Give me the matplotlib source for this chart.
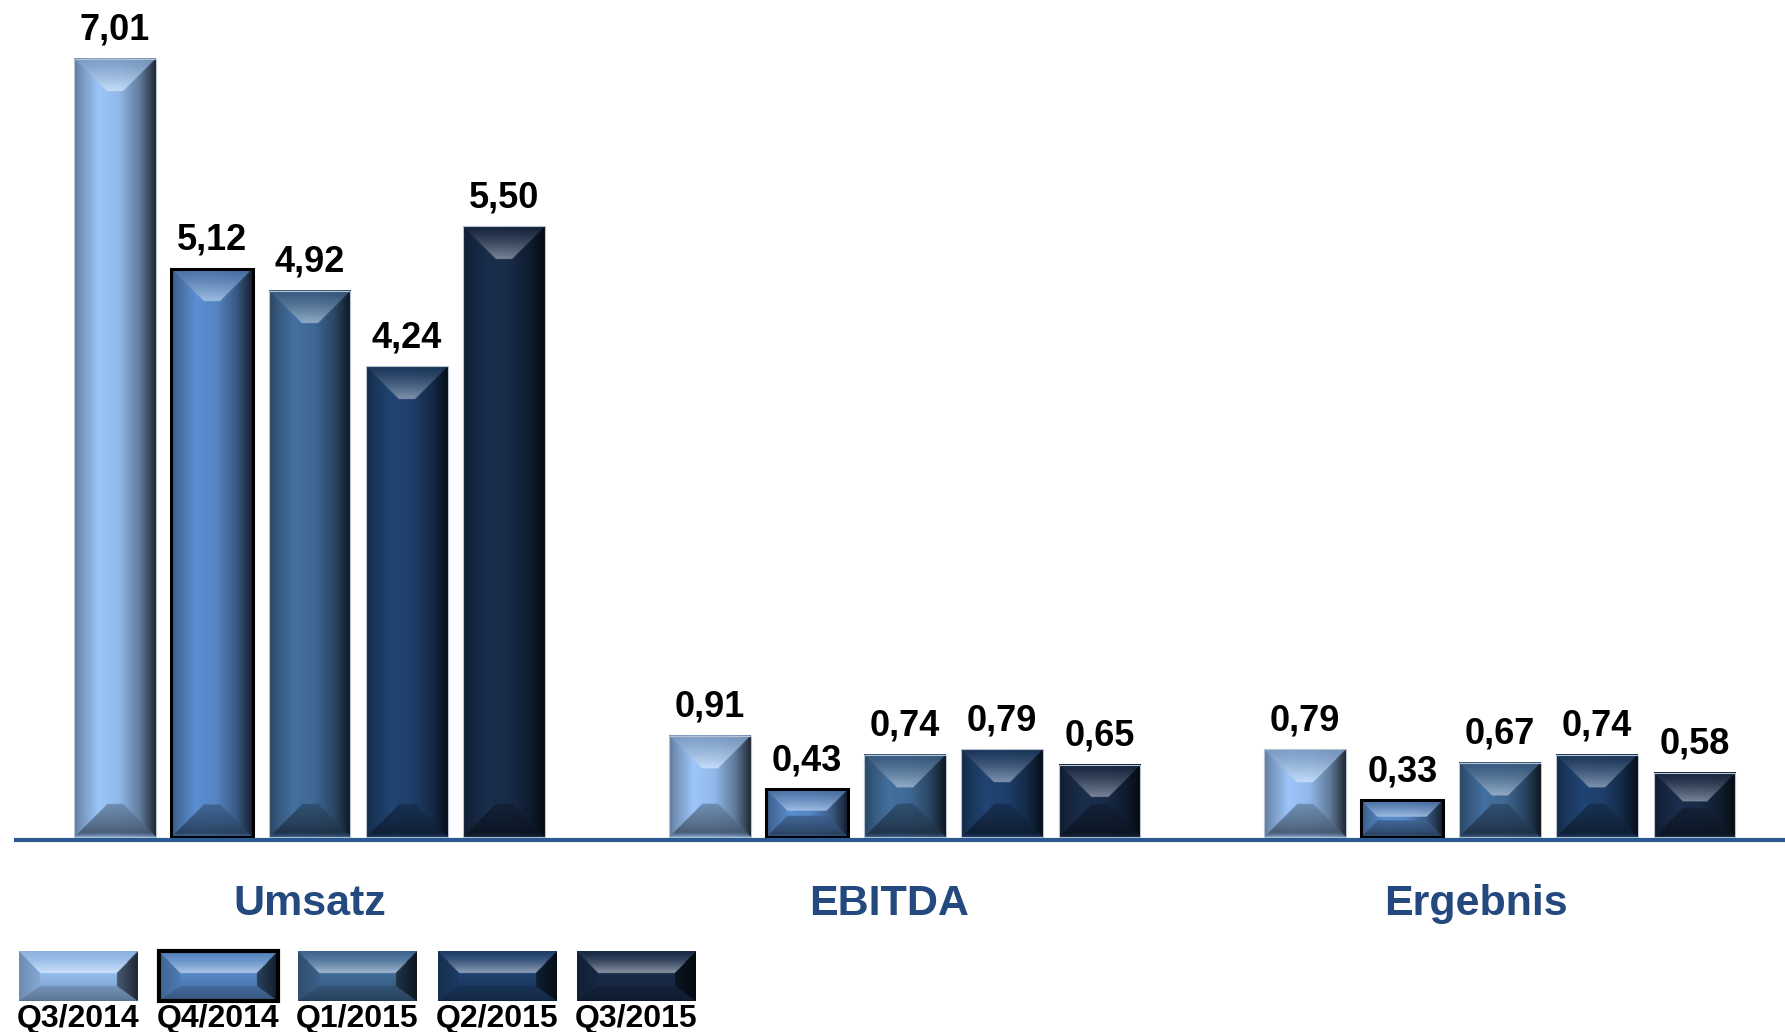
import numpy as np
import matplotlib
matplotlib.use("Agg")
import matplotlib.pyplot as plt
from matplotlib.patches import Rectangle

# ---------------- data ----------------
categories = ["Umsatz", "EBITDA", "Ergebnis"]
series_names = ["Q3/2014", "Q4/2014", "Q1/2015", "Q2/2015", "Q3/2015"]
q3_2014 = [7.01, 0.91, 0.79]
q4_2014 = [5.12, 0.43, 0.33]
q1_2015 = [4.92, 0.74, 0.67]
q2_2015 = [4.24, 0.79, 0.74]
q3_2015 = [5.50, 0.65, 0.58]
series_values = [q3_2014, q4_2014, q1_2015, q2_2015, q3_2015]
value_labels = [[f"{v:.2f}".replace(".", ",") for v in s] for s in series_values]

# ---------------- style ----------------
base_colors = ["#9cc6fa", "#5b8fd2", "#44709f", "#214473", "#1a2e4d"]
edge_colors = ["#b8c4d2", "#000000", "#b8c4d2", "#b8c4d2", "#b8c4d2"]
edge_widths = [0.8, 2.2, 0.8, 0.8, 0.8]
label_blue = "#23497f"
axis_blue = "#2b5a93"

W_PX, H_PX = 1785, 1032
DPI = 100
PITCH_PX = 97.4          # pixels per x unit (bar pitch)
UNIT_PX = 111.0          # pixels per value unit
CENTER0_PX = 309.5       # pixel x of first group center
BASE_PX = 837.0          # pixel y of value 0
GROUP_GAP = 6.11         # group spacing in pitch units
BAR_W = 0.84

x_lo = -CENTER0_PX / PITCH_PX
x_hi = (W_PX - CENTER0_PX) / PITCH_PX
y_hi = BASE_PX / UNIT_PX
y_lo = -(H_PX - BASE_PX) / UNIT_PX


def px2x(px):
    return x_lo + px / PITCH_PX


def py2y(py):
    return y_hi - py / UNIT_PX


def hex2rgb(h):
    h = h.lstrip("#")
    return np.array([int(h[i:i + 2], 16) / 255 for i in (0, 2, 4)])


def vertical_bar_image(base, wpx, hpx, bevel):
    sc = 2
    nx, ny = max(int(wpx * sc), 2), max(int(hpx * sc), 2)
    xs = (np.arange(nx) + 0.5) / sc
    ys = (np.arange(ny) + 0.5) / sc
    X, Y = np.meshgrid(xs, ys)
    dl, dr = X, wpx - X
    dt, db = Y, hpx - Y
    u = X / wpx
    hprof = np.interp(u, [0, 0.06, 0.3, 0.55, 0.8, 0.93, 1.0],
                      [0.60, 0.72, 1.0, 0.93, 0.62, 0.35, 0.18])
    img = base[None, None, :] * hprof[..., None]
    light = base + (1 - base) * 0.42
    # top bevel
    top = (dt < bevel) & (dt <= dl) & (dt <= dr)
    t = np.clip(dt / bevel, 0, 1)
    topc = (base * 0.8)[None, None, :] * (1 - t[..., None] ** 1.3) + light[None, None, :] * (t[..., None] ** 1.3)
    topc = topc * (0.88 + 0.12 * hprof[..., None])
    img = np.where(top[..., None], topc, img)
    # bottom bevel
    bot = (db < bevel) & (db <= dl) & (db <= dr) & ~top
    s = np.clip(db / bevel, 0, 1)
    bf = np.interp(s, [0, 0.06, 0.14, 0.35, 0.6, 1.0], [0.9, 0.66, 0.48, 0.56, 0.62, 0.72])
    botc = base[None, None, :] * bf[..., None] * (0.85 + 0.15 * hprof[..., None])
    img = np.where(bot[..., None], botc, img)
    return np.clip(img, 0, 1)


def legend_box_image(base, wpx, hpx, bevel_side, bevel_top, bevel_bot):
    sc = 2
    nx, ny = int(wpx * sc), int(hpx * sc)
    xs = (np.arange(nx) + 0.5) / sc
    ys = (np.arange(ny) + 0.5) / sc
    X, Y = np.meshgrid(xs, ys)
    dl, dr = X / bevel_side, (wpx - X) / bevel_side
    dt, db = Y / bevel_top, (hpx - Y) / bevel_bot
    light = base + (1 - base) * 0.5
    vy = Y / hpx
    img = base[None, None, :] * np.interp(vy, [0, 0.45, 0.7, 1], [1.0, 0.95, 0.85, 0.8])[..., None]
    top = (dt < 1) & (dt <= dl) & (dt <= dr)
    tt = np.clip(dt, 0, 1)
    topc = (base * 0.9)[None, None, :] * (1 - tt[..., None] ** 1.5) + light[None, None, :] * (tt[..., None] ** 1.5)
    bot = (db < 1) & (db <= dl) & (db <= dr) & ~top
    bb = np.clip(db, 0, 1)
    botc = base[None, None, :] * np.interp(bb, [0, 0.3, 1], [0.58, 0.64, 0.74])[..., None]
    left = (dl < 1) & (dl < dt) & (dl < db)
    right = (dr < 1) & (dr < dt) & (dr < db)
    leftc = base[None, None, :] * np.interp(dl, [0, 1], [0.7, 0.85])[..., None]
    rightc = base[None, None, :] * np.interp(dr, [0, 1], [0.2, 0.45])[..., None]
    img = np.where(top[..., None], topc, img)
    img = np.where(bot[..., None], botc, img)
    img = np.where(left[..., None], leftc, img)
    img = np.where(right[..., None], rightc, img)
    return np.clip(img, 0, 1)


plt.rcParams["font.family"] = ["Liberation Sans", "DejaVu Sans"]
fig = plt.figure(figsize=(W_PX / DPI, H_PX / DPI), dpi=DPI)
ax = fig.add_axes([0, 0, 1, 1])
ax.set_xlim(x_lo, x_hi)
ax.set_ylim(y_lo, y_hi)
ax.axis("off")

n_series = len(series_names)
bar_wpx = BAR_W * PITCH_PX
label_offsets = [0.0, -0.16, -0.24]
for ci, cat in enumerate(categories):
    center = ci * GROUP_GAP
    for si in range(n_series):
        v = series_values[si][ci]
        xc = center + (si - (n_series - 1) / 2)
        x0, x1 = xc - BAR_W / 2, xc + BAR_W / 2
        hpx = v * UNIT_PX
        bevel = min(33.0, 0.45 * hpx)
        img = vertical_bar_image(hex2rgb(base_colors[si]), bar_wpx, hpx, bevel)
        ax.imshow(img, extent=(x0, x1, 0, v), aspect="auto",
                  interpolation="bilinear", zorder=2)
        ax.add_patch(Rectangle((x0, 0), BAR_W, v, fill=False,
                               edgecolor=edge_colors[si], linewidth=edge_widths[si], zorder=3))
        ax.text(xc, v + 19 / UNIT_PX, value_labels[si][ci], ha="center", va="baseline",
                fontsize=26, fontweight="bold", color="black", zorder=4)
    ax.text(center + label_offsets[ci], py2y(904), cat, ha="center", va="center",
            fontsize=31, fontweight="bold", color=label_blue)

# axis line
ax.plot([px2x(14), x_hi], [py2y(840), py2y(840)], color=axis_blue, lw=3.0,
        solid_capstyle="butt", zorder=5)

# legend
leg_w, leg_h = 119, 50
for si, name in enumerate(series_names):
    lx = 19 + si * 139.5
    ly = 951
    img = legend_box_image(hex2rgb(base_colors[si]), leg_w, leg_h, 21, 22, 15)
    ax.imshow(img, extent=(px2x(lx), px2x(lx + leg_w), py2y(ly + leg_h), py2y(ly)),
              aspect="auto", interpolation="bilinear", zorder=2)
    ax.add_patch(Rectangle((px2x(lx), py2y(ly + leg_h)), leg_w / PITCH_PX, leg_h / UNIT_PX,
                           fill=False, edgecolor=edge_colors[si] if si == 1 else "none",
                           linewidth=3.0, zorder=3))
    ax.text(px2x(lx + leg_w / 2), py2y(1027), name, ha="center", va="baseline",
            fontsize=23, fontweight="bold", color="black")

fig.savefig("out.png", dpi=DPI)
